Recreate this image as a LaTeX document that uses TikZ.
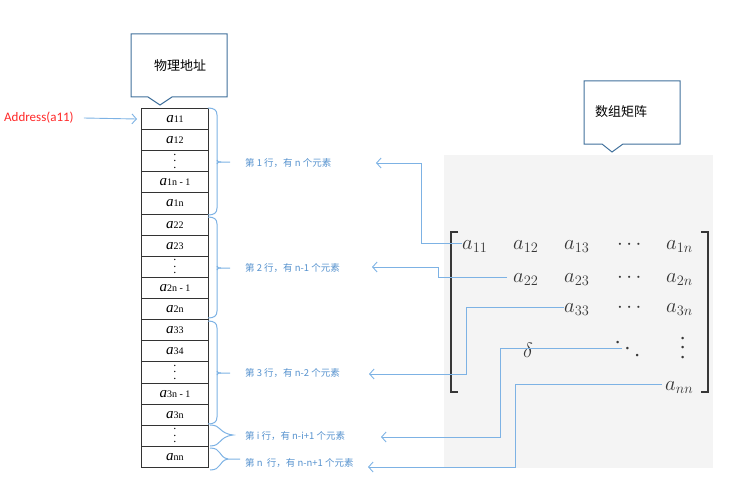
\documentclass[tikz,border=0pt]{standalone}
\usepackage{fontspec}
\setmainfont{Liberation Serif}
\newfontfamily\cjk{Noto Sans CJK SC}
\newfontfamily\carl{Carlito}
\usetikzlibrary{arrows.meta}
\definecolor{lnblue}{RGB}{125,178,228}
\definecolor{txblue}{RGB}{86,146,206}
\definecolor{cobord}{RGB}{65,113,156}
\definecolor{panel}{RGB}{244,244,244}
\definecolor{mtx}{RGB}{55,55,55}
\definecolor{addrred}{RGB}{255,40,40}
\newcommand\cellA[1]{{\fontsize{15}{15}\selectfont\itshape a}{\fontsize{10}{10}\selectfont #1}}
\newcommand\cellV{\fontsize{12}{12}\selectfont\vbox{\baselineskip=6.5pt\lineskiplimit=-20pt\lineskip=0pt\hbox{.}\hbox{.}\hbox{.}}}
\newcommand\bigV{\vbox{\baselineskip=9.5pt\lineskiplimit=-20pt\lineskip=0pt\hbox{.}\hbox{.}\hbox{.}}}
\newcommand\bigD{\hbox{\raise13pt\hbox{.}\kern4.5pt\raise6.5pt\hbox{.}\kern4.5pt\hbox{.}}}
\newcommand\cellnode[2]{\node[cellbox] (c#1) at (141,{108+21.118*(#1-1)}) {#2};}
\newcommand\bbrace[3]{%
  \draw[brc] (208,#1) .. controls (214,#1) and (217,{#1+2}) .. (217,{#1+7})
    -- (217,{#2-7}) .. controls (217,{#2-2}) and (214,#2) .. (208,#2);
  \draw[brc] (217,{#3-2}) .. controls (217,#3) and (219,#3) .. (221,#3) -- (230,#3);
  \draw[brc] (217,{#3+2}) .. controls (217,#3) and (219,#3) .. (221,#3);}
\begin{document}
\begin{tikzpicture}[x=1pt,y=-1pt,
  arr/.style={draw=lnblue, line width=0.9pt, -{Straight Barb[length=4.5pt,width=10pt]}},
  brc/.style={draw=lnblue, line width=1pt},
  lab/.style={font=\cjk\fontsize{9.5}{11}\selectfont, text=txblue, anchor=west, inner sep=0},
  cellbox/.style={draw=black!80, line width=0.9pt, fill=white, minimum width=67pt, minimum height=21.118pt, inner sep=0, anchor=north west},
  callout/.style={draw=cobord, line width=1pt, fill=white},
  ment/.style={font=\fontsize{21}{25}\selectfont, text=mtx, inner sep=0, anchor=base west},
  brk/.style={draw=mtx, line width=1.8pt}]

\useasboundingbox (0,0) rectangle (735,500);

% grey panel
\fill[panel] (444,155) rectangle (713,468);

% callouts
\draw[callout] (131,34) -- (227,34) -- (227,97) -- (172,97) -- (160,105) -- (148,97) -- (131,97) -- cycle;
\node[font=\cjk\fontsize{13}{15}\selectfont] (phys) at (180,66) {物理地址};
\draw[callout] (584,81) -- (680,81) -- (680,144) -- (623,144) -- (612,152) -- (602,144) -- (584,144) -- cycle;
\node[font=\cjk\fontsize{13}{15}\selectfont, anchor=west, inner sep=0] (matlab) at (595,112) {数组矩阵};

% memory column
\cellnode{1}{\cellA{11}}
\cellnode{2}{\cellA{12}}
\cellnode{3}{\cellV}
\cellnode{4}{\cellA{1n - 1}}
\cellnode{5}{\cellA{1n}}
\cellnode{6}{\cellA{22}}
\cellnode{7}{\cellA{23}}
\cellnode{8}{\cellV}
\cellnode{9}{\cellA{2n - 1}}
\cellnode{10}{\cellA{2n}}
\cellnode{11}{\cellA{33}}
\cellnode{12}{\cellA{34}}
\cellnode{13}{\cellV}
\cellnode{14}{\cellA{3n - 1}}
\cellnode{15}{\cellA{3n}}
\cellnode{16}{\cellV}
\cellnode{17}{\cellA{nn}}

% address
\node[font=\carl\fontsize{13}{15}\selectfont, text=addrred, anchor=west, inner sep=0] (addr) at (4,118) {Address(a11)};
\draw[arr] ([xshift=10pt]addr.east) -- ([xshift=-4pt]c1.west);

% braces
\bbrace{108}{215}{162}
\bbrace{217}{318}{268}
\bbrace{321}{424}{373}
\draw[brc] (210,425) .. controls (222,425) and (218,433) .. (233,435)
  .. controls (218,437) and (222,446) .. (210,446);
\draw[brc] (210,448) .. controls (222,448) and (218,457) .. (228,459) -- (240,459);
\draw[brc] (228,459) .. controls (218,461) and (222,470) .. (210,470);

% labels
\node[lab] (l1) at (245,163) {第 1 行，有 n 个元素};
\node[lab] (l2) at (245,268) {第 2 行，有 n-1 个元素};
\node[lab] (l3) at (245,373) {第 3 行，有 n-2 个元素};
\node[lab] (l4) at (245,436) {第 i 行，有 n-i+1 个元素};
\node[lab] (l5) at (245,463) {第 n \ 行，有 n-n+1 个元素};

% matrix brackets
\draw[brk] (458,232) -- (451,232) -- (451,392) -- (458,392);
\draw[brk] (701,232) -- (708,232) -- (708,392) -- (701,392);

% matrix entries
\node[ment] (m11) at (462,249) {$a_{11}$};
\node[ment] (m12) at (513,249) {$a_{12}$};
\node[ment] (m13) at (564,249) {$a_{13}$};
\node[ment] (cd1) at (617,249) {$\cdots$};
\node[ment] (m1n) at (666,249) {$a_{1n}$};
\node[ment] (m22) at (513,282) {$a_{22}$};
\node[ment] (m23) at (564,282) {$a_{23}$};
\node[ment] (cd2) at (617,282) {$\cdots$};
\node[ment] (m2n) at (666,282) {$a_{2n}$};
\node[ment] (m33) at (564,312) {$a_{33}$};
\node[ment] (cd3) at (617,312) {$\cdots$};
\node[ment] (m3n) at (666,312) {$a_{3n}$};
\node[ment] (md) at (523,357) {$\delta$};
\node[ment] (mdd) at (615,356) {\bigD};
\node[ment] (mvd) at (680,358) {\bigV};
\node[ment] (mnn) at (665,390) {$a_{nn}$};

% arrows
\coordinate (t1) at (376,163);
\coordinate (t2) at (372,267);
\coordinate (t3) at (369,374);
\coordinate (t4) at (381,437);
\coordinate (t5) at (368,467);
\draw[arr] ([yshift=6pt]m11.base west) -- ++(-41,0) |- (t1);
\draw[arr] ([xshift=-6pt,yshift=5pt]m22.base west) -- ++(-69,0) |- (t2);
\draw[arr] ([yshift=5pt]m33.base west) -- ++(-98,0) |- (t3);
\draw[arr] ([xshift=7pt,yshift=8pt]mdd.base west) -- ++(-122,0) |- (t4);
\draw[arr] ([xshift=-3pt,yshift=6pt]mnn.base west) -- ++(-147,0) |- (t5);
\end{tikzpicture}
\end{document}
